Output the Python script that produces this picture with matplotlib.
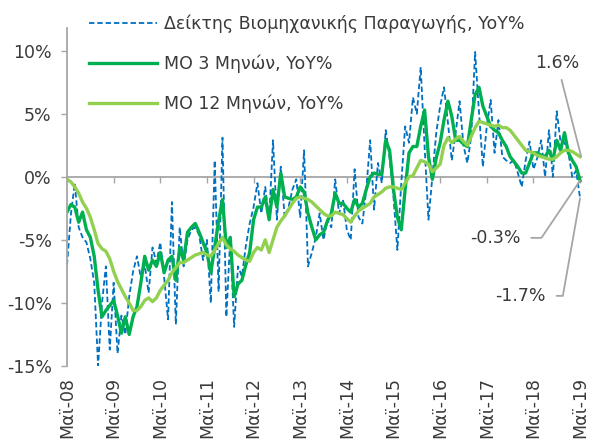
import matplotlib
matplotlib.use("Agg")
import matplotlib.pyplot as plt

plt.rcParams['font.family'] = ['DejaVu Sans']

# monthly, May-08 .. May-19
ip_yoy = [-7, -3, -0.5, -4, -4.8, -5.2, -6.5, -8.4, -15, -10,
          -7.1, -13.7, -8.4, -14, -11, -12.5, -9.5, -7.5, -6.3, -8,
          -7, -9.2, -5.6, -6.8, -5.2, -8, -11.3, -2, -11.7, -4,
          -7.1, -5, -4.2, -4, -4.6, -6.6, -5, -10, 1.3, -9.1,
          3.1, -11.1, -4.8, -11.9, -7.1, -7.9, -5.5, -3.7, -2.4, -0.5,
          -2.9, -0.8, -3.4, 2.9, -3.4, 0.8, -3.2, -2.4, -1, -0.2,
          -3.2, 2.1, -7.1, -6, -4.8, -2.9, -5, -3.4, -4, -0.2,
          -2.9, -1.8, -4.2, -5, 0.6, -3.2, -3.7, -1, 2.9, -2.6,
          1.1, -0.5, 3.7, 1.5, -1.6, -5.8, -0.5, 4, 2.7, 6.3,
          5, 8.7, 2.4, -3.4, 0, 3.5, 5.6, 7.1, 4.3, 1.3,
          3.5, 6, 2.5, 1.1, 3.2, 9.9, 5.1, 0.8, 4, 6.1,
          1.9, 4.5, 1.6, 1.3, 1.1, 1.3, 0.3, -0.8, 1.3, 2.8,
          0.6, 1.5, 2.9, 0, 3.7, 0, 5.2, 2.7, 2.7, 1.9,
          0, 0.5, -1.7]

ma3 = [-2.8, -2.2, -2.4, -3.6, -2.8, -4.2, -4.8, -6.3, -9, -11.1,
       -10.6, -10.2, -9.8, -11, -12.4, -11.1, -12.5, -11.1, -10.3, -8.4,
       -6.3, -7.4, -6.6, -7.1, -6, -7.6, -6.6, -6.3, -8.2, -5.6,
       -6.6, -4.4, -4, -3.7, -4.4, -5.2, -6, -7.6, -5.6, -3.5,
       -1.8, -5.6, -4.8, -9.5, -8.5, -8.2, -7, -6, -3.4, -2.4,
       -2.4, -1.6, -3.4, -1, -2.4, 0.3, -1.6, -1.7, -1.8, -1.6,
       -0.8, -1.2, -2.9, -4, -5, -4.6, -4.4, -3.5, -2.9, -1.3,
       -2.1, -2.1, -2.5, -2.8, -1.8, -2.4, -2.1, -1, 0, 0.3,
       0.2, 0.2, 2.9, 2.1, -1, -3.2, -4.2, -1, 1.9, 2.4,
       2.4, 4, 5.3, 1.6, -0.2, 1.5, 2.7, 4.5, 6, 4.8,
       2.9, 2.9, 2.6, 2.4, 4.5, 6.5, 7.1, 5.6, 4.8, 4,
       3.7, 3.5, 2.9, 2.4, 1.6, 1.2, 0.8, 0.3, 0.3, 1.1,
       1.9, 1.9, 1.7, 1.6, 2.1, 1.3, 2.9, 2.1, 3.5, 1.9,
       1.3, 0.8, -0.3]

ma12 = [-0.2, -0.4, -0.8, -1.3, -2, -2.5, -3.2, -4.2, -5.3, -5.7,
        -5.9, -6.5, -7.5, -8.3, -8.9, -9.5, -10, -10.6, -10.6, -10.3,
        -9.8, -9.6, -9.9, -9.6, -9, -8.6, -8.2, -7.6, -7.2, -6.8,
        -6.8, -6.6, -6.4, -6.2, -6.1, -6, -6.2, -6.3, -5.8, -5.3,
        -4.8, -5.4, -5.7, -5.9, -6.2, -6.4, -6.6, -6.7, -6, -5.6,
        -5.8, -5, -6, -5, -4, -3.5, -3.1, -2.6, -2.1, -1.7,
        -1.6, -1.7, -1.8, -2, -2.3, -2.6, -2.9, -3.1, -3.1, -2.8,
        -2.9, -3, -3.3, -3.6, -3.1, -2.7, -2.5, -2.3, -2.1, -1.6,
        -1.4, -1.2, -0.9, -0.8, -0.8, -0.9, -1, -0.5, 0, 0.1,
        0.7, 1.3, 1.2, 1, 0.4, 0.7, 1.0, 2.5, 3.1, 2.7,
        3, 3.2, 2.8, 2.5, 3.2, 3.9, 4.4, 4.3, 4.2, 4.1,
        4, 4.1, 3.9, 3.9, 3.7, 3.3, 2.9, 2.5, 2.1, 2,
        1.9, 1.7, 1.6, 1.5, 1.4, 1.4, 1.6, 1.9, 2.1, 2.1,
        2, 1.8, 1.6]

months = list(range(len(ip_yoy)))
tick_pos = list(range(0, 133, 12))
tick_labels = ['Μαϊ-%02d' % y for y in range(8, 20)]
y_ticks = [10, 5, 0, -5, -10, -15]
y_labels = ['10%', '5%', '0%', '-5%', '-10%', '-15%']

txt = '#3a3a3a'
grey = '#a6a6a6'
ymin, ymax = -15, 11.8

fig = plt.figure(figsize=(5.93, 4.40), dpi=100)
ax = fig.add_axes([67/593, 74/440, 515/593, 338/440])

ax.plot(months, ip_yoy, color='#0070C0', lw=1.3, ls=(0, (3, 1.6)),
        label='Δείκτης Βιομηχανικής Παραγωγής, YoY%')
ax.plot(months, ma3, color='#00B050', lw=2.4, label='ΜΟ 3 Μηνών, YoY%')
ax.plot(months, ma12, color='#92D050', lw=2.4, label='ΜΟ 12 Μηνών, YoY%')

ax.set_xlim(0, 132.5)
ax.set_ylim(ymin, ymax)

for s in ['top', 'right', 'bottom']:
    ax.spines[s].set_visible(False)
ax.spines['left'].set_color(grey)
ax.spines['left'].set_linewidth(1.3)

ax.set_yticks(y_ticks)
ax.set_yticklabels(y_labels)
ax.tick_params(axis='y', length=4, width=1, color=grey, pad=7,
               labelsize=12.5, labelcolor=txt)
ax.set_xticks(tick_pos)
ax.set_xticklabels(tick_labels, rotation=90)
ax.tick_params(axis='x', length=0, pad=8, labelsize=12.5, labelcolor=txt)

# zero line with its own ticks
zero = ax.secondary_xaxis((0 - ymin) / (ymax - ymin))
zero.set_alignment('bottom')
zero.set_xticks(tick_pos)
zero.set_xticklabels([])
zero.spines['bottom'].set_color(grey)
zero.spines['bottom'].set_linewidth(1.3)
zero.tick_params(length=4, width=1, color=grey)

ax.legend(loc='upper left', bbox_to_anchor=(0.043, 1.04), frameon=False,
          fontsize=12.5, labelcolor=txt, handlelength=3.9, handletextpad=0.4,
          labelspacing=1.25, borderpad=0, borderaxespad=0)

line = dict(arrowstyle='-', color=grey, lw=1.3, shrinkA=4, shrinkB=0)
ax.annotate('1.6%', xy=(132.3, ma12[-1]), xytext=(126.1, 9.05),
            ha='center', va='center', fontsize=12.5, color=txt,
            arrowprops=line)
ax.annotate('-0.3%', xy=(132, ma3[-1]), xytext=(110.1, -4.84),
            ha='center', va='center', fontsize=12.5, color=txt,
            arrowprops=dict(line, shrinkA=6,
                            connectionstyle='angle,angleA=0,angleB=56,rad=0'))
ax.annotate('-1.7%', xy=(132, ip_yoy[-1]), xytext=(116.6, -9.44),
            ha='center', va='center', fontsize=12.5, color=txt,
            arrowprops=dict(line, shrinkA=6,
                            connectionstyle='angle,angleA=0,angleB=80,rad=0'))

fig.savefig('out.png', dpi=100)
